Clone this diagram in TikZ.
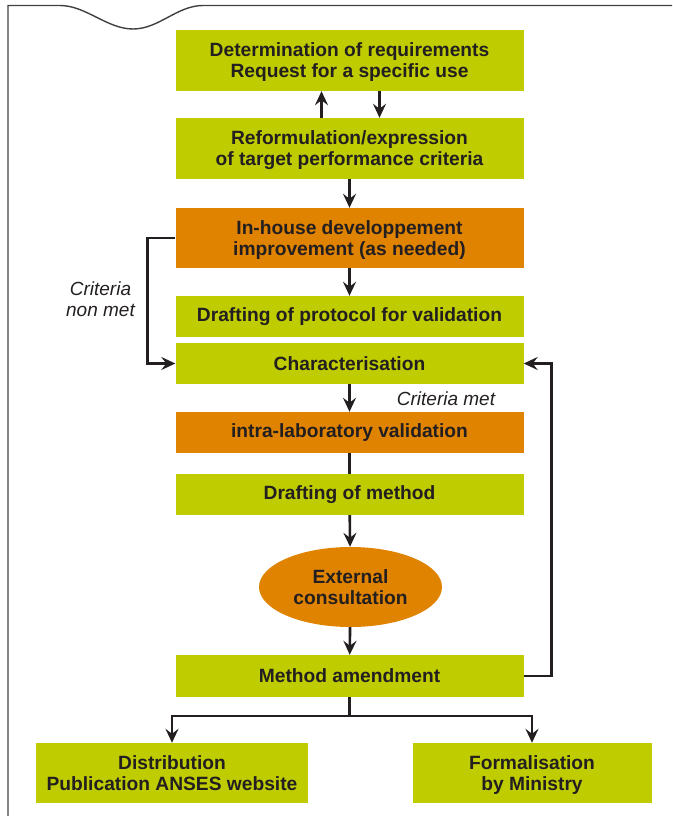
\documentclass[tikz,border=0pt]{standalone}
\usepackage{fontspec}
\setmainfont{Liberation Sans}
\usetikzlibrary{arrows.meta,shapes.geometric}
\definecolor{stepgreen}{RGB}{191,204,0}
\definecolor{steporange}{RGB}{224,131,0}
\definecolor{inkdark}{RGB}{35,31,32}

\begin{document}
\begin{tikzpicture}[x=1pt,y=-1pt,
        greenbox/.style={fill=stepgreen,text=inkdark,font=\fontsize{19.2}{21}\selectfont\bfseries,
            align=center,inner sep=0pt,minimum width=348pt},
        orangebox/.style={greenbox,fill=steporange},
        twoline/.style={text depth=0pt},
        link/.style={inkdark,line width=2.6pt},
        flow/.style={link,-{Stealth[length=14pt,width=13pt,inset=5pt]}},
        note/.style={text=inkdark,font=\fontsize{19}{21}\selectfont\itshape,align=center}]
        \useasboundingbox (0,0) rectangle (672,816);

        % Frame with the notch on top
        \draw[black!75,line width=1.4pt] (8,816) -- (8,5.5) -- (60,5.5)
            .. controls (86,5.5) and (107,29) .. (133,29)
            .. controls (159,29) and (177,5.5) .. (203,5.5) -- (672,5.5);

        % Steps
        \node[greenbox,twoline,minimum height=61pt] (needs) at (349.5,60.5) {Determination of requirements\\Request for a specific use};
        \node[greenbox,twoline,minimum height=61pt] (reform) at (349.5,148.5) {Reformulation/expression\\of target performance criteria};
        \node[orangebox,twoline,minimum height=60pt] (inhouse) at (349.5,238) {In-house developpement\\improvement (as needed)};
        \node[greenbox,minimum height=41pt] (protocol) at (349.5,316.5) {Drafting of protocol for validation};
        \node[greenbox,minimum height=41pt] (charac) at (349.5,363.5) {Characterisation};
        \node[orangebox,minimum height=41pt] (intra) at (349.5,432.5) {intra-laboratory validation};
        \node[greenbox,minimum height=41pt] (method) at (349.5,494.5) {Drafting of method};
        \node[ellipse,fill=steporange,text=inkdark,font=\fontsize{19.2}{21}\selectfont\bfseries,
            align=center,inner sep=0pt,minimum width=183pt,minimum height=80pt] (consult) at (350.5,587) {External\\consultation};
        \node[greenbox,minimum height=42pt] (amend) at (349.5,676) {Method amendment};
        \node[greenbox,minimum width=272pt,minimum height=60pt] (dist) at (172,773) {Distribution\\Publication ANSES website};
        \node[greenbox,twoline,minimum width=239pt,minimum height=60pt] (formal) at (532,773) {Formalisation\\by Ministry};

        % Labels
        \node[note] (critnon) at (100.5,299) {Criteria\\non met};
        \node[note] (critmet) at (446,399) {Criteria met};

        % Arrows
        \draw[flow] ([xshift=-28pt]reform.north) -- ([xshift=-28pt]needs.south);
        \draw[flow] ([xshift=30pt]needs.south) -- ([xshift=30pt]reform.north);
        \draw[flow] (reform) -- (inhouse);
        \draw[flow] (inhouse) -- (protocol);
        \draw[flow] (charac) -- (intra);
        \draw[link] (intra) -- (method);
        \draw[flow] (method) -- (consult);
        \draw[flow] (consult) -- (amend);

        % Loops back to characterisation
        \draw[flow] (inhouse.west) -- ++(-28,0) |- (charac.west);
        \draw[flow] (amend.east) -- ++(28,0) |- (charac.east);

        % Split to the two outputs
        \coordinate (split) at (amend.south |- 0,716);
        \draw[link] (amend) -- (split);
        \draw[flow] (split) -| (dist);
        \draw[flow] (split) -| (formal);
\end{tikzpicture}
\end{document}
